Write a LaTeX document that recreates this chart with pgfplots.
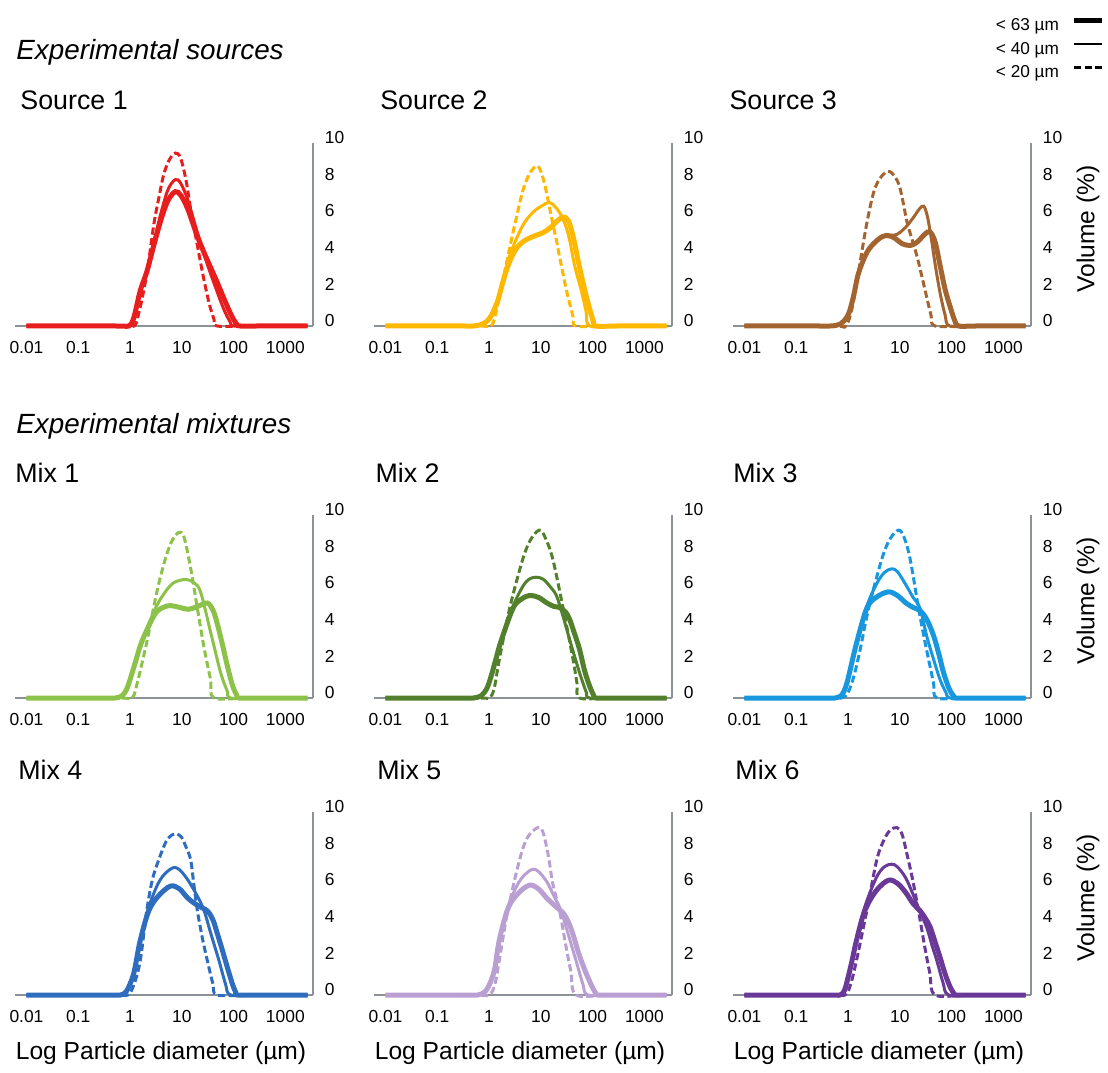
\documentclass[border=0pt]{standalone}
\usepackage{fontspec}
\setmainfont{Liberation Sans}
\usepackage{pgfplots}
\pgfplotsset{compat=1.18}
\definecolor{cS1}{RGB}{232,30,30}
\definecolor{cS2}{RGB}{255,184,0}
\definecolor{cS3}{RGB}{164,100,48}
\definecolor{cM1}{RGB}{141,194,74}
\definecolor{cM2}{RGB}{82,128,44}
\definecolor{cM3}{RGB}{24,150,222}
\definecolor{cM4}{RGB}{46,108,190}
\definecolor{cM5}{RGB}{186,160,210}
\definecolor{cM6}{RGB}{106,56,150}
\definecolor{axgray}{RGB}{140,145,152}
\tikzset{
  g63/.style={line width=2.5pt, smooth, tension=0.55},
  g40/.style={line width=1.5pt, smooth, tension=0.55},
  g20/.style={line width=1.5pt, dash pattern=on 3.6pt off 1.7pt, smooth, tension=0.55},
}
\pgfplotsset{
    scale only axis, width=149pt, height=91.5pt,
    xmin=0.006, xmax=3420, ymin=0, ymax=10,
    axis x line=bottom, axis y line=right,
    axis line style={axgray, line width=0.65pt, -},
    xtick={0.01,0.1,1,10,100,1000},
    xticklabels={0.01,0.1,1,10,100,1000},
    ytick={0,2,4,6,8,10}, yticklabels={0,2,4,6,8,10},
    minor xtick={}, minor ytick={},
    major tick length=0pt, minor tick length=0pt,
    tick label style={font=\fontsize{8.7}{10}\selectfont, text=black},
    xticklabel shift=4.2pt,
    yticklabel shift=2.4pt,
    yticklabel style={anchor=west, yshift=2.7pt},
    clip=false,
    title style={anchor=west, inner sep=0pt, font=\fontsize{13.4}{16}\selectfont},
    every axis y label/.style={at={(axis description cs:1.191,0.53)}, rotate=90, anchor=center, font=\fontsize{12.3}{14}\selectfont},
    every axis x label/.style={at={(axis description cs:0.49,-0.317)}, anchor=center, font=\fontsize{12.3}{14}\selectfont},
}
\begin{document}
\begin{tikzpicture}
\path[use as bounding box] (0pt,0pt) rectangle (554pt,536pt);
\node[anchor=west, inner sep=0pt, font=\fontsize{13.9}{16}\selectfont\itshape] at (8pt,510pt) {Experimental sources};
\node[anchor=west, inner sep=0pt, font=\fontsize{13.9}{16}\selectfont\itshape] at (8pt,323pt) {Experimental mixtures};

% ---------------- Source 1
\begin{semilogxaxis}[at={(7.5pt,373pt)}, anchor=south west, title style={at={(axis description cs:0.017,1.166)}}, title={Source 1}]
\addplot[cS1, g20] coordinates {(0.01,0)(0.6,0)(1.2,0)(1.5,0.8)(1.8,1.8)(2.2,3.2)(2.9,5.6)(3.6,7.0)(4.5,8.3)(5.8,9.1)(7.5,9.45)(9.4,9.2)(12,8.0)(15,6.3)(20,4.4)(26,2.7)(34,1.2)(42,0.35)(48,0)(200,0)(2700,0)};
\addplot[cS1, g40] coordinates {(0.01,0)(0.5,0)(0.95,0)(1.15,0.35)(1.32,1.0)(1.6,2.0)(2.13,3.1)(3,4.8)(4.16,6.4)(5.5,7.5)(7.5,8.0)(9.5,7.8)(13,6.9)(20,5.1)(30,3.5)(45,2.1)(65,0.9)(85,0.25)(102,0)(300,0)(2700,0)};
\addplot[cS1, g63] coordinates {(0.01,0)(0.5,0)(0.95,0)(1.15,0.35)(1.32,1.0)(1.6,2.0)(2.13,3.0)(3,4.6)(4.16,6.0)(5.5,6.9)(7.5,7.34)(9.5,7.15)(13,6.4)(20,4.9)(30,3.7)(48,2.4)(65,1.5)(90,0.6)(115,0.1)(135,0)(300,0)(2700,0)};
\end{semilogxaxis}

% ---------------- Source 2
\begin{semilogxaxis}[at={(187pt,373pt)}, anchor=south west, title style={at={(axis description cs:0.02,1.166)}}, title={Source 2}]
\addplot[cS2, g20] coordinates {(0.01,0)(0.6,0)(1.1,0)(1.4,0.9)(1.85,2.5)(2.7,4.7)(3.3,5.8)(4.5,7.4)(6,8.3)(8.1,8.74)(9.5,8.6)(11.5,7.9)(14,6.8)(17,5.6)(20,4.7)(23,3.8)(31,2.0)(42,0.5)(48,0)(200,0)(2700,0)};
\addplot[cS2, g40] coordinates {(0.01,0)(0.3,0)(0.5,0)(0.7,0.08)(0.9,0.25)(1.1,0.55)(1.3,1.0)(1.5,1.5)(1.85,2.5)(2.4,3.7)(3.3,4.7)(4.5,5.5)(6,6.0)(8,6.35)(11,6.6)(13.7,6.74)(17,6.65)(23,6.2)(30,5.5)(36,4.7)(45,3.3)(61,1.9)(75,0.8)(88,0)(300,0)(2700,0)};
\addplot[cS2, g63] coordinates {(0.01,0)(0.3,0)(0.5,0)(0.7,0.08)(0.9,0.25)(1.1,0.55)(1.3,1.0)(1.5,1.45)(1.85,2.4)(2.4,3.4)(3.3,4.2)(4.5,4.6)(6,4.8)(8,4.95)(11,5.1)(15,5.35)(20,5.7)(27,5.95)(34,5.75)(42,4.9)(56,3.2)(76,1.6)(102,0.3)(118,0)(300,0)(2700,0)};
\end{semilogxaxis}

% ---------------- Source 3
\begin{semilogxaxis}[at={(366.5pt,373pt)}, anchor=south west, title style={at={(axis description cs:-0.013,1.166)}}, title={Source 3},
  ylabel={Volume (\%)},
  legend plot pos=right,
  legend image code/.code={\draw[#1] (0pt,3pt) -- (14pt,3pt);},
  legend cell align=left,
  legend style={at={(axis description cs:1.248,1.689)}, anchor=north east, draw=none, fill=none, inner sep=0pt,
    row sep=2.65pt, column sep=6pt, font=\fontsize{8.6}{10}\selectfont,
    nodes={inner sep=0.5pt, text height=6.2pt, text depth=1.9pt}}]
\addlegendimage{black, line width=2.3pt}\addlegendentry{< 63 µm}
\addlegendimage{black, line width=1.4pt}\addlegendentry{< 40 µm}
\addlegendimage{black, line width=1.4pt, dash pattern=on 3.5pt off 1.8pt}\addlegendentry{< 20 µm}
\addplot[cS3, g20] coordinates {(0.01,0)(0.5,0)(0.9,0)(1.2,1.0)(1.6,3.0)(2.3,5.6)(3.2,7.4)(4.5,8.2)(6.5,8.43)(9.4,7.8)(11.7,6.7)(14,5.6)(21.5,3.8)(30.5,2.0)(40,0.6)(48,0)(200,0)(2700,0)};
\addplot[cS3, g40] coordinates {(0.01,0)(0.25,0)(0.45,0)(0.7,0.1)(1.0,0.6)(1.27,1.6)(1.6,2.9)(2.4,4.1)(3.9,4.75)(5.6,4.95)(8.7,5.0)(13,5.4)(18,5.9)(24,6.4)(29,6.55)(34,6.0)(40,4.9)(48,3.4)(60,1.8)(75,0.6)(92,0)(300,0)(2700,0)};
\addplot[cS3, g63] coordinates {(0.01,0)(0.25,0)(0.45,0)(0.7,0.1)(1.0,0.6)(1.27,1.6)(1.6,2.9)(2.4,4.1)(3.9,4.75)(5.6,4.95)(8,4.8)(11,4.5)(16,4.4)(22,4.6)(30,5.0)(38,5.15)(48,4.6)(60,3.3)(75,2.0)(95,1.0)(115,0.3)(137,0)(300,0)(2700,0)};
\end{semilogxaxis}

% ---------------- Mix 1
\begin{semilogxaxis}[at={(7.5pt,187pt)}, anchor=south west, title style={at={(axis description cs:0.0,1.166)}}, title={Mix 1}]
\addplot[cM1, g20] coordinates {(0.01,0)(0.6,0)(1.1,0)(1.4,0.9)(1.8,2.2)(2.2,3.3)(3.3,5.8)(4.8,7.6)(6.5,8.6)(8.75,9.05)(11,8.8)(14.8,7.1)(20,4.9)(26.7,2.8)(36,1.0)(42,0)(200,0)(2700,0)};
\addplot[cM1, g40] coordinates {(0.01,0)(0.3,0)(0.52,0)(0.7,0.12)(0.85,0.45)(1.0,1.0)(1.25,1.9)(1.7,3.1)(3.1,4.9)(4.8,5.8)(7,6.3)(11.9,6.48)(17,6.3)(23,5.8)(36,3.6)(56,1.4)(75,0.4)(88,0)(300,0)(2700,0)};
\addplot[cM1, g63] coordinates {(0.01,0)(0.3,0)(0.52,0)(0.7,0.12)(0.85,0.45)(1.0,1.0)(1.25,1.9)(1.7,3.1)(2.9,4.5)(4,4.9)(6,5.05)(9,4.95)(13.6,4.85)(20,5.0)(31,5.19)(40,4.8)(48,4.1)(60,3.0)(76,1.74)(95,0.7)(115,0.15)(127,0)(300,0)(2700,0)};
\end{semilogxaxis}

% ---------------- Mix 2
\begin{semilogxaxis}[at={(187pt,187pt)}, anchor=south west, title style={at={(axis description cs:0.004,1.166)}}, title={Mix 2}]
\addplot[cM2, g20] coordinates {(0.01,0)(0.6,0)(1.0,0)(1.25,0.5)(1.58,2.1)(2.5,4.9)(4.5,7.6)(6.5,8.7)(9.4,9.17)(12,8.8)(17,7.6)(27,4.9)(42,2.1)(50,0.8)(56,0)(200,0)(2700,0)};
\addplot[cM2, g40] coordinates {(0.01,0)(0.3,0)(0.5,0)(0.7,0.12)(0.9,0.5)(1.1,1.2)(1.35,2.1)(1.7,3.1)(2.9,5.0)(4.5,6.1)(6,6.5)(8.1,6.6)(11,6.5)(15,6.1)(20,5.6)(26,4.6)(36,3.2)(48,2.0)(62,1.0)(76,0.3)(88,0)(300,0)(2700,0)};
\addplot[cM2, g63] coordinates {(0.01,0)(0.3,0)(0.5,0)(0.7,0.12)(0.9,0.5)(1.1,1.2)(1.35,2.1)(1.7,3.1)(2.9,4.9)(4.2,5.4)(6,5.6)(9,5.5)(13,5.2)(18,5.0)(23,4.95)(30,4.7)(36,4.3)(45,3.5)(56,2.66)(70,1.5)(88,0.64)(105,0.15)(118,0)(300,0)(2700,0)};
\end{semilogxaxis}

% ---------------- Mix 3
\begin{semilogxaxis}[at={(366.5pt,187pt)}, anchor=south west, title style={at={(axis description cs:0.0,1.166)}}, title={Mix 3}, ylabel={Volume (\%)}]
\addplot[cM3, g20] coordinates {(0.01,0)(0.4,0)(0.75,0)(1.0,0.3)(1.3,1.2)(1.7,2.6)(2.5,4.9)(4.5,7.6)(6.5,8.7)(9.4,9.17)(12,8.8)(15.8,7.6)(23,4.9)(30,3.2)(36,2.1)(45,0.8)(52,0)(200,0)(2700,0)};
\addplot[cM3, g40] coordinates {(0.01,0)(0.3,0)(0.56,0)(0.75,0.15)(0.9,0.6)(1.05,1.3)(1.46,3.0)(2.3,5.0)(3.5,6.2)(5,6.85)(7,7.06)(9,6.9)(13,6.2)(18,5.5)(24.6,4.9)(33,3.4)(45,2.1)(60,1.0)(78,0.3)(95,0)(300,0)(2700,0)};
\addplot[cM3, g63] coordinates {(0.01,0)(0.3,0)(0.56,0)(0.75,0.15)(0.9,0.6)(1.05,1.3)(1.46,3.0)(2.3,4.9)(3.5,5.5)(6,5.8)(9,5.6)(13,5.2)(18,4.95)(24.6,4.77)(33,4.3)(45,3.4)(58,2.3)(70,1.38)(90,0.5)(110,0.1)(118,0)(300,0)(2700,0)};
\end{semilogxaxis}

% ---------------- Mix 4
\begin{semilogxaxis}[at={(7.5pt,38.5pt)}, anchor=south west, title style={at={(axis description cs:0.01,1.166)}}, title={Mix 4}, xlabel={Log Particle diameter (µm)}]
\addplot[cM4, g20] coordinates {(0.01,0)(0.5,0)(0.9,0)(1.2,0.6)(1.58,1.9)(2.1,4.6)(2.7,6.3)(3.6,7.4)(5,8.4)(6.5,8.75)(8.1,8.8)(10,8.6)(12,8.1)(14.8,7.4)(17,6.1)(20,4.6)(25,3.1)(31,1.9)(40,0.6)(48,0)(200,0)(2700,0)};
\addplot[cM4, g40] coordinates {(0.01,0)(0.35,0)(0.65,0)(0.85,0.2)(1.1,0.9)(1.25,1.5)(1.58,3.0)(2.3,4.8)(3.5,6.1)(5,6.7)(7,6.96)(9,6.85)(13,6.3)(20,5.4)(27,4.6)(36,3.4)(52,1.9)(70,0.6)(88,0)(300,0)(2700,0)};
\addplot[cM4, g63] coordinates {(0.01,0)(0.35,0)(0.65,0)(0.85,0.2)(1.1,0.9)(1.25,1.5)(1.58,3.0)(2.3,4.6)(3.5,5.4)(6,5.95)(9,5.8)(13,5.3)(20,4.9)(31,4.6)(40,4.1)(48,3.4)(60,2.5)(76,1.5)(95,0.6)(110,0.15)(120,0)(300,0)(2700,0)};
\end{semilogxaxis}

% ---------------- Mix 5
\begin{semilogxaxis}[at={(187pt,38.5pt)}, anchor=south west, title style={at={(axis description cs:0.01,1.166)}}, title={Mix 5}, xlabel={Log Particle diameter (µm)}]
\addplot[cM5, g20] coordinates {(0.01,0)(0.5,0)(1.0,0)(1.3,0.6)(1.58,1.9)(2.3,4.6)(3.9,7.4)(5.5,8.6)(8.75,9.15)(11,8.9)(14,7.6)(17,6.1)(23,4.6)(30,2.8)(38,1.3)(48,0)(200,0)(2700,0)};
\addplot[cM5, g40] coordinates {(0.01,0)(0.35,0)(0.6,0)(0.85,0.2)(1.1,0.8)(1.3,1.5)(1.58,3.0)(2.3,4.8)(3.5,6.0)(5,6.6)(7,6.87)(9,6.75)(13,6.2)(18,5.4)(24.6,4.6)(34,3.3)(48,1.87)(65,0.6)(82,0)(300,0)(2700,0)};
\addplot[cM5, g63] coordinates {(0.01,0)(0.35,0)(0.6,0)(0.85,0.2)(1.1,0.8)(1.3,1.5)(1.58,3.0)(2.3,4.7)(3.5,5.5)(6,6.0)(9,5.8)(13,5.3)(20,4.8)(26.7,4.5)(34,4.0)(42,3.3)(55,2.2)(76,1.15)(100,0.4)(115,0.1)(127,0)(300,0)(2700,0)};
\end{semilogxaxis}

% ---------------- Mix 6
\begin{semilogxaxis}[at={(366.5pt,38.5pt)}, anchor=south west, title style={at={(axis description cs:0.007,1.166)}}, title={Mix 6}, xlabel={Log Particle diameter (µm)}, ylabel={Volume (\%)}]
\addplot[cM6, g20] coordinates {(0.01,0)(0.5,0)(0.87,0)(1.1,0.5)(1.46,1.9)(2.3,4.6)(3.6,7.4)(5,8.5)(6.5,9.0)(8.75,9.15)(11,8.8)(14,7.6)(18,6.2)(23,4.6)(30,2.7)(38,1.2)(48,0)(200,0)(2700,0)};
\addplot[cM6, g40] coordinates {(0.01,0)(0.4,0)(0.7,0)(0.85,0.25)(1.0,0.95)(1.2,1.9)(1.46,3.0)(2.1,4.8)(3.5,6.4)(5,7.0)(7,7.15)(9,7.0)(13,6.4)(18,5.5)(24,4.6)(33,3.7)(42,2.7)(52,1.87)(68,0.7)(88,0)(300,0)(2700,0)};
\addplot[cM6, g63] coordinates {(0.01,0)(0.4,0)(0.7,0)(0.85,0.25)(1.0,0.95)(1.2,1.9)(1.46,3.0)(2.1,4.6)(3.5,5.7)(6,6.27)(9,6.1)(13,5.6)(18,5.0)(24.6,4.6)(31,4.2)(38.7,3.7)(48,2.9)(60,2.05)(76,1.1)(95,0.4)(110,0.1)(118,0)(300,0)(2700,0)};
\end{semilogxaxis}
\end{tikzpicture}
\end{document}
